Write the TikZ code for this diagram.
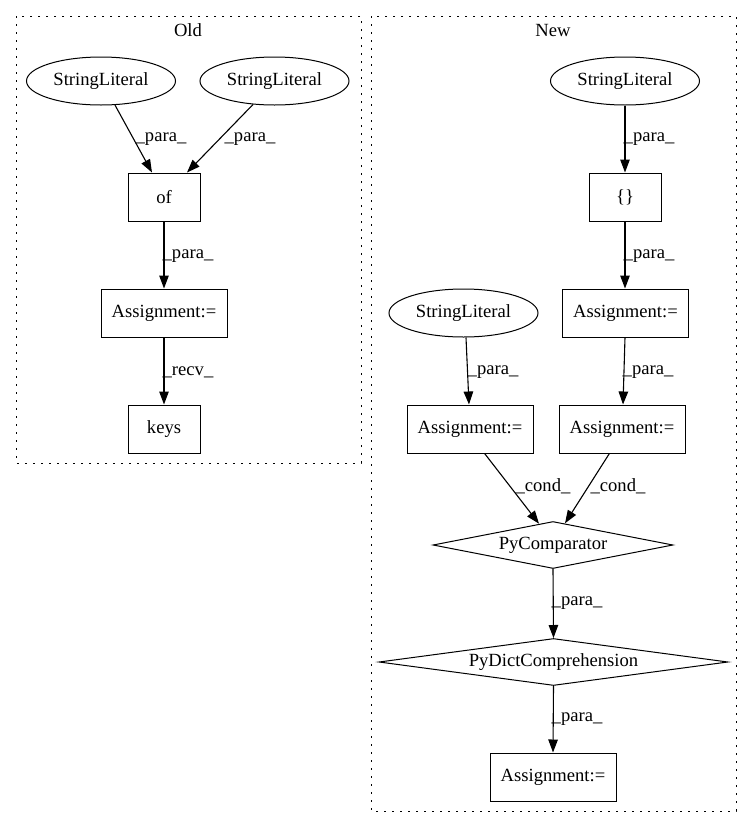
\documentclass[tikz,border=0pt]{standalone}
\usepackage{fontspec}
\setmainfont{Liberation Serif}
\usetikzlibrary{shapes.geometric,arrows.meta}
\begin{document}
\begin{tikzpicture}[x=1pt,y=-1pt,
  every node/.style={font=\fontsize{18.6}{22}\selectfont},
  box/.style={draw,line width=1pt,rectangle,minimum height=48pt,inner sep=0pt},
  sbox/.style={box,minimum width=72pt},
  abox/.style={box,minimum width=126pt},
  ell/.style={draw,line width=1pt,ellipse,minimum width=149pt,minimum height=48pt,inner sep=0pt},
  dia/.style={draw,line width=1pt,diamond,inner sep=0pt,minimum height=47pt},
  cluster/.style={draw,line width=1pt,dash pattern=on 2pt off 6pt},
  edge/.style={draw,line width=1.1pt,-{Triangle[length=13pt,width=9.5pt]}},
  lbl/.style={inner sep=0pt}
]
\useasboundingbox (0,0) rectangle (752,828);
\fill[white] (0,0) rectangle (752,828);
% clusters
\draw[cluster] (16,16) rectangle (361,463);
\draw[cluster] (371,16) rectangle (736,811);
\node[lbl] (oldt) at (188,30) {Old};
\node[lbl] (newt) at (553,30) {New};
% Old nodes
\node[ell] (s1) at (101,81) {StringLiteral};
\node[ell] (s2) at (274.5,81) {StringLiteral};
\node[sbox] (of) at (164,197) {of};
\node[abox] (asg) at (164,313) {Assignment:=};
\node[sbox] (keys) at (164,429) {keys};
% New nodes
\node[ell] (ns) at (625,81) {StringLiteral};
\node[sbox] (br) at (625,197) {\{\}};
\node[abox] (na1) at (625.5,313) {Assignment:=};
\node[ell] (ns2) at (463.5,313) {StringLiteral};
\node[abox] (na2) at (470,429) {Assignment:=};
\node[abox] (na3) at (622,429) {Assignment:=};
\node[dia,minimum width=240pt,aspect=5.1] (pc) at (553,545) {PyComparator};
\node[dia,minimum width=349pt,aspect=7.4] (pd) at (553.5,662) {PyDictComprehension};
\node[abox] (na4) at (553,777) {Assignment:=};
% Old edges
\draw[edge] ([xshift=14pt,yshift=0.4pt]s1.south) -- ([xshift=-12pt]of.north);
\draw[edge] ([xshift=-21.5pt,yshift=1pt]s2.south) -- ([xshift=23pt]of.north);
\draw[edge] (of.south) -- (asg.north);
\draw[edge] (asg.south) -- (keys.north);
% New edges
\draw[edge] (ns.south) -- (br.north);
\draw[edge] (br.south) -- ([xshift=-0.5pt]na1.north);
\draw[edge] ([xshift=2.5pt]ns2.south) -- ([xshift=-1pt]na2.north);
\draw[edge] ([xshift=-0.5pt]na1.south) -- ([xshift=1pt]na3.north);
\draw[edge] ([xshift=14.6pt]na2.south) -- ([xshift=-14pt,yshift=-2.7pt]pc.north);
\draw[edge] ([xshift=-12.6pt]na3.south) -- ([xshift=12pt,yshift=-2.3pt]pc.north);
\draw[edge] (pc.south) -- (pd.north);
\draw[edge] (pd.south) -- (na4.north);
% edge labels
\node[lbl] (l1) at (161,139) {\_para\_};
\node[lbl] (l2) at (250,139) {\_para\_};
\node[lbl] (l3) at (188,256) {\_para\_};
\node[lbl] (l4) at (188,372) {\_recv\_};
\node[lbl] (l5) at (649,139) {\_para\_};
\node[lbl] (l6) at (649,256) {\_para\_};
\node[lbl] (l7) at (493,372) {\_para\_};
\node[lbl] (l8) at (648,372) {\_para\_};
\node[lbl] (l9) at (543,486) {\_cond\_};
\node[lbl] (l10) at (618,486) {\_cond\_};
\node[lbl] (l11) at (577,603) {\_para\_};
\node[lbl] (l12) at (577,719) {\_para\_};
\end{tikzpicture}
\end{document}
